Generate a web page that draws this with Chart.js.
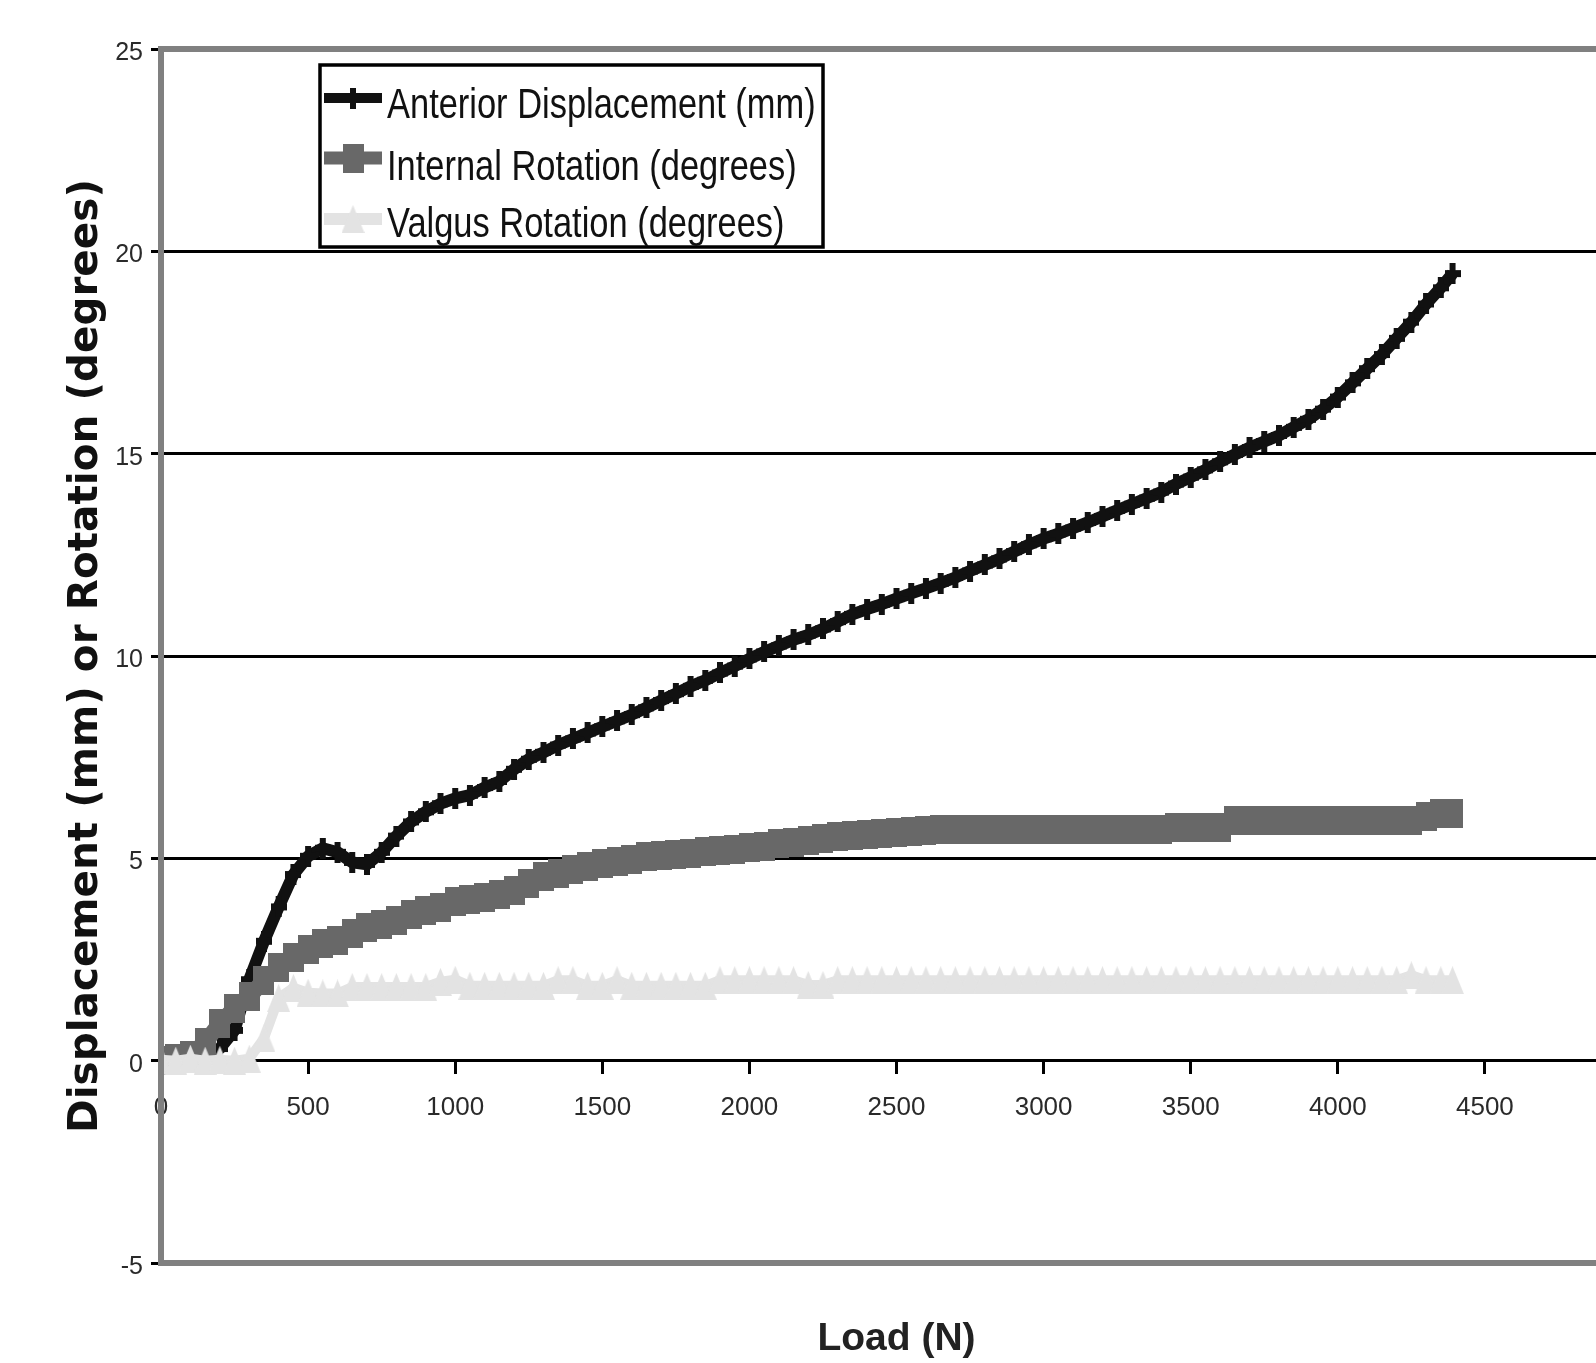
<!DOCTYPE html>
<html>
<head>
<meta charset="utf-8">
<script src="https://cdn.jsdelivr.net/npm/chart.js"></script>
<style>
  html, body { margin: 0; padding: 0; background: #fff; overflow: hidden; }
  #wrap { position: absolute; left: 0; top: 0; width: 1700px; height: 1363px; }
</style>
</head>
<body>
<div id="wrap"><canvas id="chart"></canvas></div>
<script>
// load steps (N)
const loadN = [0, 50, 100, 150, 200, 250, 300, 350, 400, 450, 500, 550, 600, 650, 700, 750, 800, 850, 900, 950,
	1000, 1050, 1100, 1150, 1200, 1250, 1300, 1350, 1400, 1450, 1500, 1550, 1600, 1650, 1700, 1750, 1800, 1850, 1900, 1950,
	2000, 2050, 2100, 2150, 2200, 2250, 2300, 2350, 2400, 2450, 2500, 2550, 2600, 2650, 2700, 2750, 2800, 2850, 2900, 2950,
	3000, 3050, 3100, 3150, 3200, 3250, 3300, 3350, 3400, 3450, 3500, 3550, 3600, 3650, 3700, 3750, 3800, 3850, 3900, 3950,
	4000, 4050, 4100, 4150, 4200, 4250, 4300, 4350, 4390];

const anteriorMm = [0, 0.02, 0.08, 0.15, 0.3, 0.75, 2.0, 2.95, 3.8, 4.6, 5.05, 5.25, 5.15, 4.9, 4.85, 5.15, 5.55, 5.9, 6.15, 6.35,
	6.48, 6.56, 6.75, 6.9, 7.2, 7.45, 7.62, 7.8, 7.95, 8.1, 8.25, 8.4, 8.55, 8.72, 8.9, 9.07, 9.25, 9.4, 9.58, 9.75,
	9.93, 10.1, 10.25, 10.4, 10.52, 10.67, 10.85, 11.03, 11.16, 11.28, 11.42, 11.55, 11.67, 11.8, 11.94, 12.1, 12.25, 12.4, 12.58, 12.75,
	12.9, 13.02, 13.16, 13.3, 13.45, 13.6, 13.75, 13.9, 14.05, 14.25, 14.42, 14.6, 14.8, 14.98, 15.15, 15.3, 15.45, 15.65, 15.85, 16.1,
	16.4, 16.75, 17.1, 17.45, 17.85, 18.25, 18.7, 19.1, 19.45];

const internalDeg = [0, 0.05, 0.14, 0.45, 0.92, 1.3, 1.58, 1.99, 2.3, 2.55, 2.75, 2.9, 2.97, 3.15, 3.28, 3.36, 3.47, 3.62, 3.72, 3.78,
	3.94, 3.99, 4.04, 4.1, 4.2, 4.38, 4.55, 4.63, 4.72, 4.8, 4.88, 4.93, 4.96, 5.04, 5.08, 5.1, 5.13, 5.16, 5.2, 5.23,
	5.26, 5.3, 5.36, 5.4, 5.45, 5.5, 5.53, 5.56, 5.58, 5.61, 5.63, 5.66, 5.69, 5.71, 5.72, 5.72, 5.72, 5.72, 5.72, 5.72,
	5.72, 5.72, 5.72, 5.72, 5.72, 5.72, 5.72, 5.72, 5.72, 5.75, 5.76, 5.76, 5.76, 5.93, 5.93, 5.93, 5.93, 5.93, 5.93, 5.93,
	5.93, 5.93, 5.93, 5.93, 5.93, 5.93, 6.03, 6.12, 6.12];

const valgusDeg = [0.02, 0, 0.05, 0, 0.02, 0, 0.05, 0.55, 1.55, 1.8, 1.68, 1.66, 1.66, 1.82, 1.82, 1.82, 1.82, 1.82, 1.82, 1.95,
	2.0, 1.85, 1.85, 1.85, 1.85, 1.85, 1.85, 1.99, 1.99, 1.85, 1.85, 1.99, 1.85, 1.85, 1.85, 1.85, 1.85, 1.85, 1.99, 1.99,
	1.99, 1.99, 1.99, 1.99, 1.87, 1.87, 1.99, 1.99, 1.99, 1.99, 1.99, 1.99, 1.99, 1.99, 1.99, 1.99, 1.99, 1.99, 1.99, 1.99,
	1.99, 1.99, 1.99, 1.99, 1.99, 1.99, 1.99, 1.99, 1.99, 1.99, 1.99, 1.99, 1.99, 1.99, 1.99, 1.99, 1.99, 1.99, 1.99, 1.99,
	1.99, 1.99, 1.99, 1.99, 1.99, 2.11, 1.99, 1.99, 1.99];

const seriesNames = ['Anterior Displacement (mm)', 'Internal Rotation (degrees)', 'Valgus Rotation (degrees)'];

const sans = "'Liberation Sans', Arial, sans-serif";

/* small canvases used as point markers (the picture is stretched vertically) */
function makeMarker(w, h, paint) {
	const c = document.createElement('canvas');
	c.width = w;
	c.height = h;
	paint(c.getContext('2d'), w, h);
	return c;
}
const crossMark = makeMarker(16, 21, (g, w, h) => {
	g.fillStyle = '#111';
	g.fillRect(0, 7, w, 7);
	g.fillRect(5, 0, 6, h);
});
const squareMark = makeMarker(21, 29, (g, w, h) => {
	g.fillStyle = '#686868';
	g.fillRect(0, 0, w, h);
});
const triMark = makeMarker(23, 28, (g, w, h) => {
	g.fillStyle = '#e3e3e3';
	g.beginPath();
	g.moveTo(w / 2, 0);
	g.lineTo(w, h);
	g.lineTo(0, h);
	g.closePath();
	g.fill();
});

function toPoints(ys) {
	return loadN.map((x, i) => ({ x: x, y: ys[i] }));
}

/* gray frame round the plot area */
const framePlugin = {
	id: 'frame',
	afterDatasetsDraw(chart) {
		const { ctx, chartArea: a } = chart;
		ctx.save();
		ctx.strokeStyle = '#808080';
		ctx.lineWidth = 6;
		ctx.strokeRect(a.left, a.top, a.right - a.left, a.bottom - a.top);
		ctx.restore();
	}
};

/* boxed legend inside the plot */
const legendPlugin = {
	id: 'boxLegend',
	afterDraw(chart) {
		const ctx = chart.ctx;
		const box = { x: 320, y: 65, w: 503, h: 182 };
		ctx.save();
		ctx.fillStyle = '#fff';
		ctx.fillRect(box.x, box.y, box.w, box.h);
		ctx.strokeStyle = '#000';
		ctx.lineWidth = 3.5;
		ctx.strokeRect(box.x, box.y, box.w, box.h);

		const rows = [
			{ mid: 98, base: 118, color: '#111', width: 10, mark: crossMark },
			{ mid: 158, base: 180, color: '#686868', width: 13, mark: squareMark },
			{ mid: 219, base: 237, color: '#e3e3e3', width: 12, mark: triMark }
		];
		rows.forEach((r, i) => {
			ctx.strokeStyle = r.color;
			ctx.lineWidth = r.width;
			ctx.beginPath();
			ctx.moveTo(324, r.mid);
			ctx.lineTo(382, r.mid);
			ctx.stroke();
			ctx.drawImage(r.mark, 353 - r.mark.width / 2, r.mid - r.mark.height / 2);
			// narrow face: squeeze horizontally
			ctx.save();
			ctx.translate(387, r.base);
			ctx.scale(0.82, 1);
			ctx.fillStyle = '#111';
			ctx.font = '42px ' + sans;
			ctx.textBaseline = 'alphabetic';
			ctx.textAlign = 'left';
			ctx.fillText(seriesNames[i], 0, 0);
			ctx.restore();
		});
		ctx.restore();
	}
};

const lineCommon = {
	showLine: true,
	tension: 0,
	pointRadius: 1,
	pointHoverRadius: 1,
	borderCapStyle: 'butt',
	borderJoinStyle: 'round',
	clip: 0
};

const config = {
	type: 'scatter',
	data: {
		datasets: [
			Object.assign({}, lineCommon, {
				label: seriesNames[0],
				data: toPoints(anteriorMm),
				borderColor: '#111',
				borderWidth: 12,
				pointStyle: crossMark,
				order: 3
			}),
			Object.assign({}, lineCommon, {
				label: seriesNames[1],
				data: toPoints(internalDeg),
				borderColor: '#686868',
				borderWidth: 16,
				pointStyle: squareMark,
				order: 2
			}),
			Object.assign({}, lineCommon, {
				label: seriesNames[2],
				data: toPoints(valgusDeg),
				borderColor: '#e3e3e3',
				borderWidth: 10,
				pointStyle: triMark,
				order: 1
			})
		]
	},
	options: {
		responsive: true,
		maintainAspectRatio: false,
		animation: false,
		layout: { padding: { top: 49, right: 68, bottom: 100, left: 0 } },
		plugins: {
			legend: { display: false },
			tooltip: { enabled: false }
		},
		scales: {
			x: {
				type: 'linear',
				position: { y: 0 },
				min: 0,
				max: 5000,
				ticks: {
					stepSize: 500,
					autoSkip: false,
					maxRotation: 0,
					padding: 20,
					color: '#2a2a2a',
					font: { family: sans, size: 26 },
					callback: (v) => String(v)
				},
				grid: { drawOnChartArea: false, drawTicks: true, tickLength: 12, color: '#000', lineWidth: 3 },
				border: { display: true, color: '#000', width: 3 },
				title: {
					display: true,
					text: 'Load (N)',
					color: '#222',
					padding: 0,
					font: { family: sans, size: 39, weight: 'bold' }
				},
				afterFit(s) { s.height = 302; }
			},
			y: {
				type: 'linear',
				min: -5,
				max: 25,
				ticks: {
					stepSize: 5,
					padding: 8,
					labelOffset: 4,
					color: '#2a2a2a',
					font: { family: sans, size: 25 },
					callback: (v) => String(v)
				},
				grid: { color: '#000', lineWidth: 3, tickLength: 10, drawTicks: true },
				border: { display: false },
				title: {
					display: true,
					text: 'Displacement (mm) or Rotation (degrees)',
					color: '#111',
					padding: { top: 62, bottom: 0 },
					font: { family: "'DejaVu Sans', sans-serif", size: 40.5, weight: 'bold' }
				},
				afterFit(s) { s.width = 161; }
			}
		}
	},
	plugins: [framePlugin, legendPlugin]
};

const chart = new Chart(document.getElementById('chart'), config);
</script>
</body>
</html>
